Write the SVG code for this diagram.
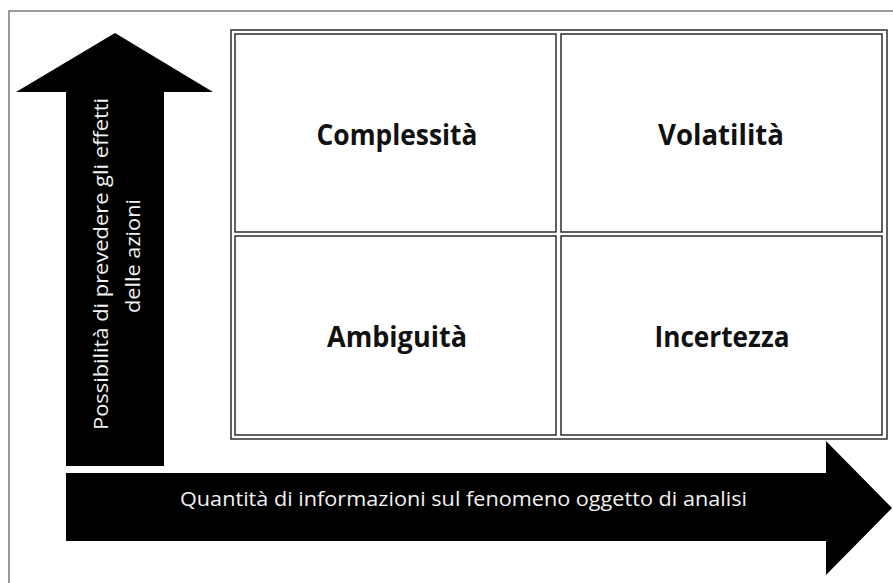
<svg xmlns="http://www.w3.org/2000/svg" width="893" height="583" viewBox="0 0 893 583">
  <style>
    .frame { fill: none; stroke: #7a7a7a; stroke-width: 1.5; }
    .cell { fill: #ffffff; stroke: #1e1e1e; stroke-width: 1.4; }
    .outer { fill: none; stroke: #1e1e1e; stroke-width: 1.4; }
    .label { font-family: "Open Sans", "Liberation Sans", sans-serif; font-weight: bold; font-size: 29px; fill: #111111; text-anchor: middle; }
    .axis { fill: #000000; }
    .axislabel { font-family: "Open Sans", "Liberation Sans", sans-serif; font-size: 20.5px; fill: #f2f2f2; }
  </style>
  <rect x="0" y="0" width="893" height="583" fill="#ffffff"/>
  <path class="frame" d="M9,583 V11 H893"/>

  <g id="axes">
    <g id="axis-vertical">
      <polygon class="axis" points="115,33 213,92 164,92 164,466 66,466 66,92 16,92"/>
      <text class="axislabel" text-anchor="middle" transform="translate(108,264) rotate(-90)" textLength="332" lengthAdjust="spacingAndGlyphs">Possibilità di prevedere gli effetti</text>
      <text class="axislabel" text-anchor="middle" transform="translate(140,256) rotate(-90)" textLength="114" lengthAdjust="spacingAndGlyphs">delle azioni</text>
    </g>
    <g id="axis-horizontal">
      <polygon class="axis" points="66,473 826,473 826,441 892,508 826,575 826,541 66,541"/>
      <text class="axislabel" x="180" y="506" textLength="567" lengthAdjust="spacingAndGlyphs">Quantità di informazioni sul fenomeno oggetto di analisi</text>
    </g>
  </g>

  <g id="matrix">
    <rect class="outer" x="231" y="30" width="656" height="409"/>
    <g id="cell-complessita">
      <rect class="cell" x="235" y="34" width="321" height="198"/>
      <text class="label" x="397" y="145" textLength="161" lengthAdjust="spacingAndGlyphs">Complessità</text>
    </g>
    <g id="cell-volatilita">
      <rect class="cell" x="561" y="34" width="321" height="198"/>
      <text class="label" x="721" y="145" textLength="126" lengthAdjust="spacingAndGlyphs">Volatilità</text>
    </g>
    <g id="cell-ambiguita">
      <rect class="cell" x="235" y="236" width="321" height="199"/>
      <text class="label" x="397" y="347" textLength="140" lengthAdjust="spacingAndGlyphs">Ambiguità</text>
    </g>
    <g id="cell-incertezza">
      <rect class="cell" x="561" y="236" width="321" height="199"/>
      <text class="label" x="722" y="347" textLength="135" lengthAdjust="spacingAndGlyphs">Incertezza</text>
    </g>
  </g>
</svg>
